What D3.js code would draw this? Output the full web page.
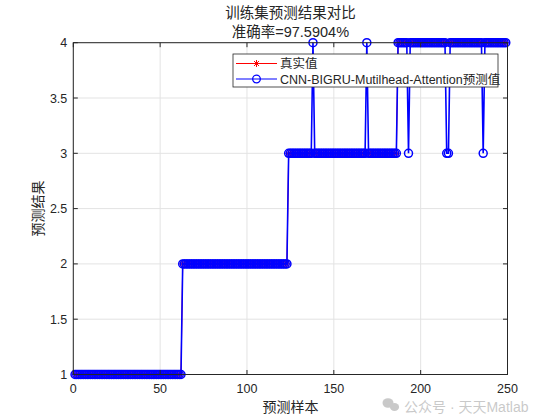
<!DOCTYPE html>
<html>
<head>
<meta charset="utf-8">
<script src="https://cdn.jsdelivr.net/npm/d3@7"></script>
<style>
  html, body { margin: 0; padding: 0; background: #fff; }
  svg { display: block; }
</style>
</head>
<body>
<div id="chart"></div>
<script>
// ---------------- data ----------------
const titleLines = ["训练集预测结果对比", "准确率=97.5904%"];
const xLabel = "预测样本";
const yLabel = "预测结果";
const legendLabels = ["真实值", "CNN-BIGRU-Mutilhead-Attention预测值"];
const xTicks = [0, 50, 100, 150, 200, 250];
const yTicks = [1, 1.5, 2, 2.5, 3, 3.5, 4];
const yTickLabels = ["1", "1.5", "2", "2.5", "3", "3.5", "4"];

// true class of each training sample (1..249)
const trueValues = [
  // samples 1-62
  1,1,1,1,1,1,1,1,1,1,
  1,1,1,1,1,1,1,1,1,1,
  1,1,1,1,1,1,1,1,1,1,
  1,1,1,1,1,1,1,1,1,1,
  1,1,1,1,1,1,1,1,1,1,
  1,1,1,1,1,1,1,1,1,1,
  1,1,
  // samples 63-123
  2,2,2,2,2,2,2,2,2,2,
  2,2,2,2,2,2,2,2,2,2,
  2,2,2,2,2,2,2,2,2,2,
  2,2,2,2,2,2,2,2,2,2,
  2,2,2,2,2,2,2,2,2,2,
  2,2,2,2,2,2,2,2,2,2,
  2,
  // samples 124-186
  3,3,3,3,3,3,3,3,3,3,
  3,3,3,3,3,3,3,3,3,3,
  3,3,3,3,3,3,3,3,3,3,
  3,3,3,3,3,3,3,3,3,3,
  3,3,3,3,3,3,3,3,3,3,
  3,3,3,3,3,3,3,3,3,3,
  3,3,3,
  // samples 187-249
  4,4,4,4,4,4,4,4,4,4,
  4,4,4,4,4,4,4,4,4,4,
  4,4,4,4,4,4,4,4,4,4,
  4,4,4,4,4,4,4,4,4,4,
  4,4,4,4,4,4,4,4,4,4,
  4,4,4,4,4,4,4,4,4,4,
  4,4,4
];

// predicted class of each training sample (1..249)
const predValues = [
  // samples 1-62
  1,1,1,1,1,1,1,1,1,1,
  1,1,1,1,1,1,1,1,1,1,
  1,1,1,1,1,1,1,1,1,1,
  1,1,1,1,1,1,1,1,1,1,
  1,1,1,1,1,1,1,1,1,1,
  1,1,1,1,1,1,1,1,1,1,
  1,1,
  // samples 63-123
  2,2,2,2,2,2,2,2,2,2,
  2,2,2,2,2,2,2,2,2,2,
  2,2,2,2,2,2,2,2,2,2,
  2,2,2,2,2,2,2,2,2,2,
  2,2,2,2,2,2,2,2,2,2,
  2,2,2,2,2,2,2,2,2,2,
  2,
  // samples 124-186
  3,3,3,3,3,3,3,3,3,3,
  3,3,3,3,4,3,3,3,3,3,
  3,3,3,3,3,3,3,3,3,3,
  3,3,3,3,3,3,3,3,3,3,
  3,3,3,3,3,4,3,3,3,3,
  3,3,3,3,3,3,3,3,3,3,
  3,3,3,
  // samples 187-249
  4,4,4,4,4,4,3,4,4,4,
  4,4,4,4,4,4,4,4,4,4,
  4,4,4,4,4,4,4,4,3,3,
  4,4,4,4,4,4,4,4,4,4,
  4,4,4,4,4,4,4,4,4,3,
  4,4,4,4,4,4,4,4,4,4,
  4,4,4
];

// ---------------- drawing ----------------
const W = 560, H = 420;
const plot = { left: 73.3, right: 507.5, top: 42.7, bottom: 374.5 };
const axisColor = "#262626";
const gridColor = "#e3e3e3";
const latin = "Arial, 'Liberation Sans', Helvetica, sans-serif";
const cjk = "Arial, 'Liberation Sans', 'Noto Sans CJK SC', sans-serif";

const svg = d3.select("#chart").append("svg")
  .attr("width", W).attr("height", H)
  .attr("viewBox", `0 0 ${W} ${H}`);

const x = d3.scaleLinear().domain([0, 250]).range([plot.left, plot.right]);
const y = d3.scaleLinear().domain([1, 4]).range([plot.bottom, plot.top]);

// grid
const grid = svg.append("g");
grid.selectAll("line.gx").data(xTicks).join("line")
  .attr("x1", d => x(d)).attr("x2", d => x(d))
  .attr("y1", plot.top).attr("y2", plot.bottom)
  .attr("stroke", gridColor).attr("stroke-width", 1);
grid.selectAll("line.gy").data(yTicks).join("line")
  .attr("y1", d => y(d)).attr("y2", d => y(d))
  .attr("x1", plot.left).attr("x2", plot.right)
  .attr("stroke", gridColor).attr("stroke-width", 1);

// series
const trueData = trueValues.map((v, i) => ({ i: i + 1, v }));
const predData = predValues.map((v, i) => ({ i: i + 1, v }));
const line = d3.line().x(d => x(d.i)).y(d => y(d.v));

const starPath = (r) => {
  const a = r * 0.7071;
  return `M${-r},0L${r},0M0,${-r}L0,${r}M${-a},${-a}L${a},${a}M${-a},${a}L${a},${-a}`;
};

const gTrue = svg.append("g");
gTrue.append("path").datum(trueData).attr("d", line)
  .attr("fill", "none").attr("stroke", "#ff0000").attr("stroke-width", 1);
gTrue.selectAll("path.star").data(trueData).join("path")
  .attr("class", "star")
  .attr("transform", d => `translate(${x(d.i)},${y(d.v)})`)
  .attr("d", starPath(3.5))
  .attr("stroke", "#ff0000").attr("stroke-width", 0.8).attr("fill", "none");

const gPred = svg.append("g");
gPred.append("path").datum(predData).attr("d", line)
  .attr("fill", "none").attr("stroke", "#0000ff").attr("stroke-width", 1.6);
gPred.selectAll("circle").data(predData).join("circle")
  .attr("cx", d => x(d.i)).attr("cy", d => y(d.v)).attr("r", 4)
  .attr("fill", "none").attr("stroke", "#0000ff").attr("stroke-width", 1.5);

// axes box
const box = svg.append("g");
box.append("rect")
  .attr("x", plot.left).attr("y", plot.top)
  .attr("width", plot.right - plot.left).attr("height", plot.bottom - plot.top)
  .attr("fill", "none").attr("stroke", axisColor).attr("stroke-width", 1);

const tickLen = 4.5;
box.selectAll("line.xtb").data(xTicks).join("line")
  .attr("x1", d => x(d)).attr("x2", d => x(d))
  .attr("y1", plot.bottom).attr("y2", plot.bottom - tickLen)
  .attr("stroke", axisColor);
box.selectAll("line.xtt").data(xTicks).join("line")
  .attr("x1", d => x(d)).attr("x2", d => x(d))
  .attr("y1", plot.top).attr("y2", plot.top + tickLen)
  .attr("stroke", axisColor);
box.selectAll("line.ytl").data(yTicks).join("line")
  .attr("y1", d => y(d)).attr("y2", d => y(d))
  .attr("x1", plot.left).attr("x2", plot.left + tickLen)
  .attr("stroke", axisColor);
box.selectAll("line.ytr").data(yTicks).join("line")
  .attr("y1", d => y(d)).attr("y2", d => y(d))
  .attr("x1", plot.right).attr("x2", plot.right - tickLen)
  .attr("stroke", axisColor);

// tick labels
svg.append("g").selectAll("text").data(xTicks).join("text")
  .attr("x", d => x(d)).attr("y", plot.bottom + 18)
  .attr("text-anchor", "middle")
  .attr("font-family", latin).attr("font-size", 12.5)
  .attr("fill", axisColor).text(d => d);
svg.append("g").selectAll("text").data(yTicks).join("text")
  .attr("x", plot.left - 6).attr("y", d => y(d) + 4.5)
  .attr("text-anchor", "end")
  .attr("font-family", latin).attr("font-size", 12.5)
  .attr("fill", axisColor).text((d, i) => yTickLabels[i]);

// axis labels
svg.append("text")
  .attr("x", (plot.left + plot.right) / 2).attr("y", 412)
  .attr("text-anchor", "middle")
  .attr("font-family", cjk).attr("font-size", 14)
  .attr("fill", axisColor).text(xLabel);
svg.append("text")
  .attr("transform", `translate(43,${(plot.top + plot.bottom) / 2}) rotate(-90)`)
  .attr("text-anchor", "middle")
  .attr("font-family", cjk).attr("font-size", 14)
  .attr("fill", axisColor).text(yLabel);

// title
svg.append("g").selectAll("text").data(titleLines).join("text")
  .attr("x", (plot.left + plot.right) / 2)
  .attr("y", (d, i) => 18 + i * 19)
  .attr("text-anchor", "middle")
  .attr("font-family", cjk).attr("font-size", 14.5)
  .attr("fill", axisColor).text(d => d);

// legend
const leg = { x: 233, y: 54, w: 265, h: 33 };
const lg = svg.append("g");
lg.append("rect").attr("x", leg.x).attr("y", leg.y)
  .attr("width", leg.w).attr("height", leg.h)
  .attr("fill", "#fff").attr("stroke", axisColor).attr("stroke-width", 0.8);
const legColors = ["#ff0000", "#0000ff"];
legendLabels.forEach((lab, i) => {
  const cy = leg.y + 9.5 + i * 15.5;
  lg.append("line").attr("x1", leg.x + 3).attr("x2", leg.x + 44)
    .attr("y1", cy).attr("y2", cy)
    .attr("stroke", legColors[i]).attr("stroke-width", 1.2);
  if (i === 0) {
    lg.append("path").attr("transform", `translate(${leg.x + 23.5},${cy})`)
      .attr("d", starPath(3.5)).attr("stroke", legColors[i])
      .attr("stroke-width", 1).attr("fill", "none");
  } else {
    lg.append("circle").attr("cx", leg.x + 23.5).attr("cy", cy).attr("r", 3.8)
      .attr("fill", "none").attr("stroke", legColors[i]).attr("stroke-width", 1.3);
  }
  lg.append("text").attr("x", leg.x + 47).attr("y", cy + 4.5)
    .attr("font-family", cjk).attr("font-size", 12.5)
    .attr("fill", axisColor).text(lab);
});

// watermark
const wm = svg.append("g").attr("opacity", 0.45);
wm.append("ellipse").attr("cx", 388).attr("cy", 403).attr("rx", 5.5).attr("ry", 4.8).attr("fill", "#8a8a8a");
wm.append("ellipse").attr("cx", 394.5).attr("cy", 407).attr("rx", 4.6).attr("ry", 4).attr("fill", "#8a8a8a");
wm.append("text").attr("x", 404).attr("y", 412)
  .attr("font-family", cjk).attr("font-size", 14)
  .attr("fill", "#8a8a8a").text("公众号 · 天天Matlab");
</script>
</body>
</html>
